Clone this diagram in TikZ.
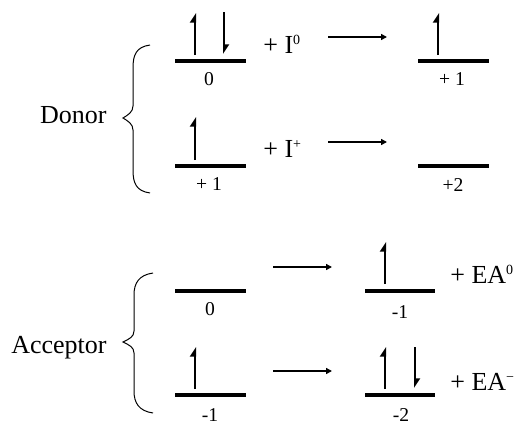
\documentclass[tikz,border=0pt]{standalone}
\usepackage{fontspec}
\setmainfont{Liberation Serif}
\usetikzlibrary{arrows.meta}
% small raised index after a symbol
\newcommand\supidx[1]{\raisebox{4.4pt}{\fontsize{7}{7}\selectfont #1}}
\begin{document}
\begin{tikzpicture}[x=0.5pt,y=-0.5pt,
  level/.style={line width=1.7pt},
  spinup/.style={line width=1pt,-{Triangle[left,length=4pt,width=5pt]}},
  spindown/.style={line width=1pt,-{Triangle[left,length=4pt,width=5pt]}},
  react/.style={line width=1pt,-{Triangle[length=3pt,width=3pt]}},
  brace/.style={line width=0.5pt},
  charge/.style={font=\fontsize{9.8}{10}\selectfont,inner sep=0pt},
  term/.style={font=\fontsize{13}{15}\selectfont,inner sep=0pt,anchor=base west},
  side/.style={font=\fontsize{13}{15}\selectfont,inner sep=0pt,anchor=base east}]
\useasboundingbox (0,0) rectangle (519,423);

% ---------- Donor ----------
\node[side] (donor) at (107,123) {Donor};
\draw[brace] (150,45) .. controls (136,47) and (133,55) .. (133,68)
  -- (133,106) .. controls (133,112) and (128,115) .. (123,118)
  .. controls (128,121) and (133,124) .. (133,130)
  -- (133,170) .. controls (133,183) and (136,191) .. (150,193);

% neutral donor -> +1
\coordinate (d1a) at (175,61);  \coordinate (d1b) at (246,61);
\draw[level] (d1a) -- (d1b);
\coordinate (d1u0) at (195,55); \coordinate (d1u1) at (195,13);
\coordinate (d1d0) at (224,12); \coordinate (d1d1) at (224,54);
\draw[spinup] (d1u0) -- (d1u1);
\draw[spindown] (d1d0) -- (d1d1);
\node[charge] (q1) at (209,79) {0};
\node[term] (i0) at (263,53) {+ I\supidx{0}};
\coordinate (r1a) at (328,37); \coordinate (r1b) at (387,37);
\draw[react] (r1a) -- (r1b);
\coordinate (d1c) at (418,61);  \coordinate (d1e) at (489,61);
\draw[level] (d1c) -- (d1e);
\coordinate (d1v0) at (438,55); \coordinate (d1v1) at (438,13);
\draw[spinup] (d1v0) -- (d1v1);
\node[charge] (q2) at (452,79) {+ 1};

% +1 donor -> +2
\coordinate (d2a) at (175,166);  \coordinate (d2b) at (246,166);
\draw[level] (d2a) -- (d2b);
\coordinate (d2u0) at (195,160); \coordinate (d2u1) at (195,117);
\draw[spinup] (d2u0) -- (d2u1);
\node[charge] (q3) at (209,184) {+ 1};
\node[term] (ip) at (263,157) {+ I\supidx{+}};
\coordinate (r2a) at (328,142); \coordinate (r2b) at (387,142);
\draw[react] (r2a) -- (r2b);
\coordinate (d2c) at (418,166);  \coordinate (d2e) at (489,166);
\draw[level] (d2c) -- (d2e);
\node[charge] (q4) at (453,185) {+2};

% ---------- Acceptor ----------
\node[side] (acceptor) at (107,353) {Acceptor};
\draw[brace] (153,273) .. controls (139,275) and (134,283) .. (134,295)
  -- (134,331) .. controls (134,337) and (129,339) .. (123,342)
  .. controls (129,345) and (134,347) .. (134,353)
  -- (134,391) .. controls (134,403) and (139,411) .. (153,413);

% neutral acceptor -> -1
\coordinate (a1a) at (175,291);  \coordinate (a1b) at (246,291);
\draw[level] (a1a) -- (a1b);
\node[charge] (q5) at (210,309) {0};
\coordinate (r3a) at (273,267); \coordinate (r3b) at (332,267);
\draw[react] (r3a) -- (r3b);
\coordinate (a1c) at (365,291);  \coordinate (a1e) at (435,291);
\draw[level] (a1c) -- (a1e);
\coordinate (a1v0) at (385,284); \coordinate (a1v1) at (385,242);
\draw[spinup] (a1v0) -- (a1v1);
\node[charge] (q6) at (400,312) {-1};
\node[term] (ea0) at (450,283) {+ EA\supidx{0}};

% -1 acceptor -> -2
\coordinate (a2a) at (175,395);  \coordinate (a2b) at (246,395);
\draw[level] (a2a) -- (a2b);
\coordinate (a2u0) at (195,389); \coordinate (a2u1) at (195,347);
\draw[spinup] (a2u0) -- (a2u1);
\node[charge] (q7) at (210,415) {-1};
\coordinate (r4a) at (273,371); \coordinate (r4b) at (332,371);
\draw[react] (r4a) -- (r4b);
\coordinate (a2c) at (365,395);  \coordinate (a2e) at (435,395);
\draw[level] (a2c) -- (a2e);
\coordinate (a2u2) at (385,389); \coordinate (a2u3) at (385,347);
\draw[spinup] (a2u2) -- (a2u3);
\coordinate (a2d0) at (415,347); \coordinate (a2d1) at (415,388);
\draw[spindown] (a2d0) -- (a2d1);
\node[charge] (q8) at (401,415) {-2};
\node[term] (eam) at (450,390) {+ EA\supidx{−}};
\end{tikzpicture}
\end{document}
